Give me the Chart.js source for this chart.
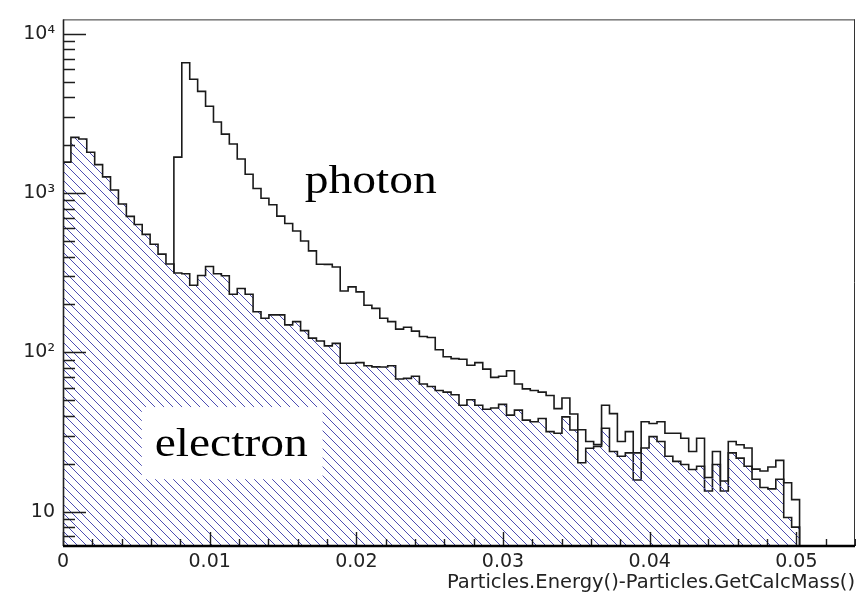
<!DOCTYPE html>
<html>
<head>
<meta charset="utf-8">
<script src="https://cdn.jsdelivr.net/npm/chart.js@4.4.1/dist/chart.umd.min.js"></script>
<style>
html,body{margin:0;padding:0;background:#ffffff;}
canvas{display:block;}
</style>
</head>
<body>
<canvas id="c" width="856" height="593" style="width:856px;height:593px"></canvas>
<script>
// ---------------- data ----------------
const BIN_WIDTH = 0.00054;             // histogram bin width
const X_RANGE = [0, 0.054];
const Y_RANGE = [6.09, 12330];

// electron counts per bin (bin 0 .. 92)
const electron = [
  1567, 2239, 2188, 1807, 1510, 1265, 1047, 854, 715, 635,
  551, 478, 414, 359, 315, 312, 264, 304, 346, 312,
  303, 232, 252, 232, 180, 164, 172, 172, 149, 156,
  137, 123, 118, 110, 114, 85.5, 85.5, 86.3, 82.4, 81.2,
  81.0, 82.4, 68.1, 68.7, 70.8, 63.4, 61.1, 57.7, 56.3, 54.2,
  46.6, 50.5, 46.6, 44.0, 44.8, 47.2, 40.4, 43.4, 37.6, 36.7,
  38.5, 31.8, 31.1, 39.4, 32.6, 20.3, 25.0, 25.7, 33.4, 23.9,
  22.3, 23.4, 23.4, 25.1, 29.6, 27.6, 22.3, 20.7, 19.8, 18.4,
  19.3, 16.4, 19.8, 15.6, 23.4, 21.7, 19.3, 16.0, 14.2, 13.9,
  16.0, 9.2, 8.0
];

// photon counts per bin (empty below bin 14)
const photon = [
  null, null, null, null, null, null, null, null, null, null,
  null, null, null, null, 1683, 6590, 5190, 4355, 3516, 2800,
  2349, 2037, 1640, 1315, 1069, 930, 845, 717, 645, 578,
  501, 434, 358, 357, 344, 243, 258, 240, 198, 189,
  164, 156, 140, 144, 136, 126, 124, 104, 94, 91.4,
  90.6, 83.1, 86.3, 78.5, 69.7, 70.8, 76.7, 63.4, 59.0, 57.7,
  56.3, 53.7, 44.4, 51.7, 41.1, 32.7, 27.6, 26.4, 46.6, 41.3,
  27.6, 31.8, 15.8, 36.7, 35.8, 36.7, 31.1, 31.1, 28.9, 23.9,
  28.9, 13.5, 23.9, 13.5, 27.6, 26.3, 25.1, 18.5, 18.0, 19.1,
  21.0, 15.2, 11.9
];

const xTickValues = [0, 0.01, 0.02, 0.03, 0.04, 0.05];
const xTickLabels = ['0', '0.01', '0.02', '0.03', '0.04', '0.05'];
const yTickValues = [10, 100, 1000, 10000];
const yTickLabels = ['10', '10\u00B2', '10\u00B3', '10\u2074'];
const xTitle = 'Particles.Energy()-Particles.GetCalcMass()';

// text labels placed in data coordinates
const annotations = [
  { text: 'photon',   x: 0.01648, y: 1000 },
  { text: 'electron', x: 0.00625, y: 22.3, box: { x0: 0.00537, x1: 0.01770, yTop: 45.4, yBottom: 16.0 } }
];

// ---------------- build histogram outlines ----------------
function histPoints(vals, startLevel) {
  let first = vals.findIndex(v => v !== null);
  let last = vals.length - 1;
  while (vals[last] === null) last--;
  const pts = [{ x: first * BIN_WIDTH, y: startLevel }];
  for (let i = first; i <= last; i++) pts.push({ x: i * BIN_WIDTH, y: vals[i] });
  pts.push({ x: (last + 1) * BIN_WIDTH, y: vals[last] });
  pts.push({ x: (last + 1) * BIN_WIDTH, y: Y_RANGE[0] });
  return pts;
}
const electronPts = histPoints(electron, Y_RANGE[0]);
const photonStart = photon.findIndex(v => v !== null);
const photonPts = histPoints(photon, electron[photonStart]);

// hatch pattern
function makeHatch() {
  const s = 9;
  const c = document.createElement('canvas');
  c.width = s; c.height = s;
  const g = c.getContext('2d');
  g.strokeStyle = 'rgb(78,78,178)';
  g.lineWidth = 1;
  g.beginPath();
  g.moveTo(0, 0); g.lineTo(s, s);
  g.moveTo(-1, s - 1); g.lineTo(1, s + 1);
  g.moveTo(s - 1, -1); g.lineTo(s + 1, 1);
  g.stroke();
  return g.createPattern(c, 'repeat');
}

const rootPlugin = {
  id: 'rootFrame',
  afterDatasetsDraw(chart) {
    const { ctx, chartArea: ca, scales } = chart;
    const xs = scales.x, ys = scales.y;
    ctx.save();
    // annotations
    annotations.forEach(a => {
      if (a.box) {
        const bx0 = xs.getPixelForValue(a.box.x0), bx1 = xs.getPixelForValue(a.box.x1);
        const by0 = ys.getPixelForValue(a.box.yTop), by1 = ys.getPixelForValue(a.box.yBottom);
        ctx.fillStyle = '#ffffff';
        ctx.fillRect(bx0, by0, bx1 - bx0, by1 - by0);
      }
      ctx.save();
      ctx.translate(xs.getPixelForValue(a.x), ys.getPixelForValue(a.y));
      ctx.scale(1.16, 1);
      ctx.font = '41px "Liberation Serif"';
      ctx.fillStyle = '#000000';
      ctx.textAlign = 'left';
      ctx.textBaseline = 'alphabetic';
      ctx.fillText(a.text, 0, 0);
      ctx.restore();
    });
    // tick marks (inside the frame)
    ctx.strokeStyle = '#1e1e1e';
    ctx.lineWidth = 1.4;
    ctx.beginPath();
    for (let e = 0; e <= 5; e++) {
      for (let m = 1; m <= 9; m++) {
        const v = m * Math.pow(10, e);
        if (v < ys.min || v > ys.max) continue;
        const py = Math.round(ys.getPixelForValue(v)) + 0.5;
        const len = m === 1 ? 23 : 12;
        ctx.moveTo(ca.left, py); ctx.lineTo(ca.left + len, py);
      }
    }
    for (let k = 0; k <= 30; k++) {
      const v = k * 0.002;
      if (v > xs.max + 1e-9) break;
      const px = Math.round(xs.getPixelForValue(v)) + 0.5;
      const len = k % 5 === 0 ? 14 : 7;
      ctx.moveTo(px, ca.bottom); ctx.lineTo(px, ca.bottom - len);
    }
    ctx.stroke();
    // frame
    ctx.strokeStyle = '#333333';
    ctx.lineWidth = 1;
    ctx.beginPath();
    ctx.moveTo(ca.left, ca.top + 0.5); ctx.lineTo(ca.right, ca.top + 0.5);
    ctx.moveTo(ca.right - 0.5, ca.top); ctx.lineTo(ca.right - 0.5, ca.bottom);
    ctx.stroke();
    ctx.strokeStyle = '#222222';
    ctx.lineWidth = 1.6;
    ctx.beginPath();
    ctx.moveTo(ca.left + 0.5, ca.top); ctx.lineTo(ca.left + 0.5, ca.bottom);
    ctx.stroke();
    ctx.strokeStyle = '#000000';
    ctx.lineWidth = 2.4;
    ctx.beginPath();
    ctx.moveTo(ca.left, ca.bottom); ctx.lineTo(ca.right, ca.bottom);
    ctx.stroke();
    ctx.restore();
  }
};

const ctx = document.getElementById('c').getContext('2d');
new Chart(ctx, {
  type: 'line',
  data: {
    datasets: [
      {
        label: 'electron', data: electronPts, stepped: 'before',
        borderColor: '#1a1a1a', borderWidth: 1.6, pointRadius: 0,
        fill: 'start', backgroundColor: makeHatch()
      },
      {
        label: 'photon', data: photonPts, stepped: 'before',
        borderColor: '#1a1a1a', borderWidth: 1.6, pointRadius: 0, fill: false
      }
    ]
  },
  options: {
    responsive: false,
    animation: false,
    devicePixelRatio: 1,
    layout: { padding: { left: 0, right: 1, top: 12, bottom: 0 } },
    plugins: { legend: { display: false }, tooltip: { enabled: false } },
    scales: {
      x: {
        type: 'linear', min: X_RANGE[0], max: X_RANGE[1],
        grid: { display: false, drawTicks: false },
        border: { display: false },
        afterBuildTicks: s => { s.ticks = xTickValues.map(v => ({ value: v })); },
        ticks: {
          autoSkip: false, maxRotation: 0, padding: 5,
          color: '#222', font: { family: 'DejaVu Sans', size: 19 },
          callback: (v, i) => xTickLabels[i]
        },
        title: {
          display: true, text: xTitle, align: 'end', color: '#222',
          font: { family: 'DejaVu Sans', size: 19.5, lineHeight: 1 },
          padding: { top: 0, bottom: 0 }
        },
        afterFit: s => { s.height = 47; }
      },
      y: {
        type: 'logarithmic', min: Y_RANGE[0], max: Y_RANGE[1],
        grid: { display: false, drawTicks: false },
        border: { display: false },
        afterBuildTicks: s => { s.ticks = yTickValues.map(v => ({ value: v })); },
        ticks: {
          autoSkip: false, padding: 8,
          color: '#222', font: { family: 'DejaVu Sans', size: 19 },
          callback: (v, i) => yTickLabels[i]
        },
        afterFit: s => { s.width = 63; }
      }
    }
  },
  plugins: [rootPlugin]
});
</script>
</body>
</html>
